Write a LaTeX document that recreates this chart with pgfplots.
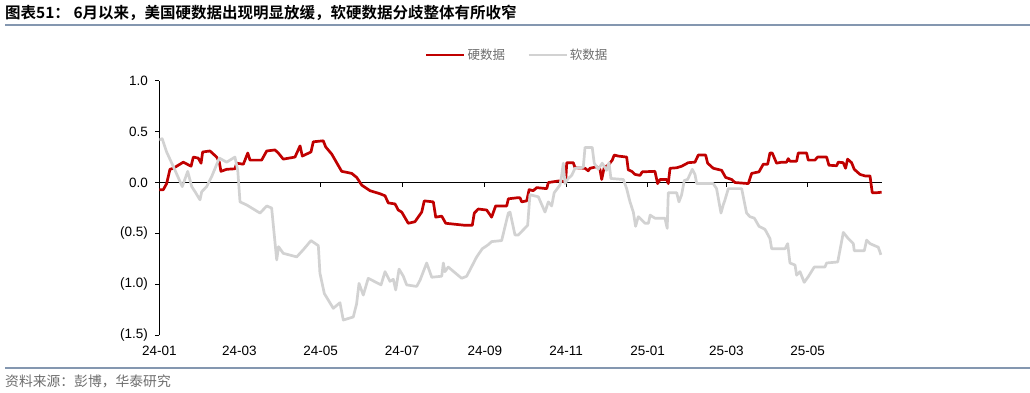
\documentclass[border=0pt]{standalone}
\usepackage{fontspec}
\setmainfont{Liberation Sans}
\newfontfamily\cjk[BoldFont={Noto Sans CJK SC Bold}]{Noto Sans CJK SC}
\usepackage{pgfplots}
\pgfplotsset{compat=1.18}
\definecolor{hardred}{RGB}{192,0,0}
\definecolor{softgray}{RGB}{210,210,210}
\definecolor{rulecol}{RGB}{132,151,176}
\definecolor{txtgray}{RGB}{110,110,110}

\pgfplotstableread{
d v
0 -0.07
3 -0.07
5.5 -0.01
8 0.13
10.5 0.14
18 0.20
23.8 0.16
25.5 0.25
29.2 0.24
31.3 0.19
32.5 0.30
38 0.31
43 0.25
45 0.20
46.2 0.11
50.5 0.13
56.7 0.135
58 0.19
63 0.18
66.3 0.29
68 0.22
76.7 0.22
80.5 0.31
86.7 0.32
89.2 0.29
92.9 0.23
101.7 0.25
105.5 0.36
107.2 0.26
113.7 0.30
115.4 0.40
122.9 0.41
124.7 0.35
129.2 0.28
136.7 0.11
144.2 0.09
148 0.05
151.7 -0.025
157.9 -0.08
165.4 -0.11
169.2 -0.13
171.6 -0.20
176.7 -0.21
179.1 -0.27
181.7 -0.29
186.6 -0.40
191.6 -0.385
196.7 -0.29
198.6 -0.18
205.4 -0.19
207.2 -0.34
211.7 -0.33
214.7 -0.40
229.1 -0.42
234.6 -0.42
236.1 -0.30
239.1 -0.26
245.4 -0.27
249.1 -0.34
252.1 -0.23
260.4 -0.23
261.6 -0.16
267.9 -0.15
270.4 -0.15
271.6 -0.19
275.4 -0.18
277.2 -0.07
280.3 -0.08
282.9 -0.05
290.4 -0.06
291.6 0.00
299.1 0.015
304.6 0.01
305.4 0.195
310.3 0.195
311.6 0.145
319.1 0.14
321.5 0.115
322.8 0.14
327.8 0.155
330.3 0.13
331.6 0.03
333.5 0.15
336.5 0.17
339.5 0.22
341 0.27
344 0.26
350.3 0.25
351.5 0.125
354.1 0.11
356.5 0.08
360.3 0.07
362 0.105
371.5 0.11
373.5 -0.01
375.3 0.03
380.3 0.03
381.5 -0.01
382.8 0.14
387.8 0.145
391.5 0.16
396.5 0.195
401.5 0.20
404 0.27
409.5 0.27
411 0.19
415.2 0.14
421.5 0.12
424.5 0.05
429 0.03
431.5 0.00
441.5 -0.01
444 0.09
449.5 0.105
452.7 0.18
456 0.18
457.7 0.29
459.4 0.29
462.7 0.19
466.5 0.20
470.2 0.20
471.4 0.235
472.7 0.21
477.7 0.21
478.9 0.29
485.2 0.29
486.4 0.22
491.4 0.22
493.4 0.25
500.2 0.25
501.9 0.17
507.7 0.165
508.9 0.20
512.6 0.195
514.4 0.14
515.9 0.23
518.9 0.195
520.9 0.13
525.2 0.08
528.9 0.065
532.7 0.065
534.4 -0.10
537.7 -0.10
541.4 -0.095
}\hard

\pgfplotstableread{
d v
0 0.42
2.2 0.43
5.5 0.30
11.8 0.12
17.2 -0.04
21.3 0.11
24.3 -0.04
26.8 -0.09
30.5 -0.17
31.8 -0.09
35.5 -0.04
39.3 0.06
45 0.24
50.5 0.20
56.7 0.25
58.8 0.12
60.5 -0.19
65.5 -0.22
75.5 -0.30
80.5 -0.23
84.2 -0.25
88 -0.76
89.4 -0.63
92.9 -0.695
103 -0.73
107.9 -0.66
113.7 -0.57
119.2 -0.62
120.4 -0.89
123.7 -1.09
130.4 -1.235
135.4 -1.18
137.9 -1.35
145.4 -1.32
147.9 -1.19
149.7 -0.99
152.9 -1.105
156.6 -0.94
166.2 -1.005
169.2 -0.875
172.9 -0.97
175.4 -0.95
177.2 -1.055
179.7 -0.85
182.9 -0.92
185.4 -1.005
192.9 -1.02
195.4 -0.96
200.4 -0.79
204.2 -0.93
211.7 -0.92
212.9 -0.79
214.1 -0.875
216.6 -0.83
226.6 -0.94
230.4 -0.92
237.9 -0.73
242.1 -0.65
246.6 -0.61
249.1 -0.58
256.6 -0.57
261.6 -0.30
262.9 -0.29
266.6 -0.515
269.1 -0.515
276.1 -0.42
277.8 -0.12
284.1 -0.14
289.1 -0.29
291.6 -0.19
294.1 -0.23
296 -0.10
300.3 -0.025
301.6 0.07
302.8 0.19
304.1 -0.01
306.5 0.04
309.1 0.07
311.6 0.14
317.8 0.15
319.1 0.345
324.5 0.345
326 0.19
329 0.13
332 0.19
335.3 0.12
337.1 0.195
338.5 0.04
347.8 0.03
350.3 -0.06
352.8 -0.19
355.3 -0.29
357 -0.43
359 -0.335
364.1 -0.40
366.6 -0.40
367.9 -0.32
371.5 -0.35
379 -0.35
380.7 -0.45
381.5 -0.10
387.8 -0.10
389.5 -0.19
391.5 -0.12
393.5 0.02
396 0.03
399.5 0.13
401.5 0.08
402.8 -0.01
415.2 -0.01
417.7 -0.06
421 -0.30
422.7 -0.22
424 -0.17
426.5 -0.06
436.5 -0.06
440.2 -0.30
442.7 -0.335
446 -0.35
449.5 -0.43
454 -0.46
457.7 -0.55
459 -0.65
469 -0.65
471 -0.60
472.7 -0.79
476.5 -0.81
477.7 -0.91
480.2 -0.875
483.4 -0.98
486.4 -0.925
490.9 -0.83
498.9 -0.83
500.2 -0.79
508.5 -0.78
512.7 -0.49
516.4 -0.55
520.2 -0.60
520.9 -0.67
528.4 -0.67
530.2 -0.565
532.7 -0.60
538.9 -0.635
540.9 -0.71
}\soft

\begin{document}
\begin{tikzpicture}
\useasboundingbox[fill=white] (0pt,0pt) rectangle (1030pt,393pt);
\node[anchor=west, inner sep=0pt] at (5pt,380pt) {\cjk\bfseries\fontsize{15.5}{17}\selectfont 图表51：\ 6月以来，美国硬数据出现明显放缓，软硬数据分歧整体有所收窄};
\draw[rulecol, line width=1.2pt] (5pt,368pt) -- (1030pt,368pt);
\draw[rulecol, line width=1.2pt] (5pt,25pt) -- (1030pt,25pt);
\node[anchor=west, inner sep=0pt, text=txtgray] at (5pt,12pt) {\cjk\fontsize{13.8}{15}\selectfont 资料来源：彭博，华泰研究};
\begin{axis}[
  at={(159.3pt,57.7pt)}, anchor=south west,
  scale only axis, width=723.1pt, height=254.6pt,
  xmin=0, xmax=542, ymin=-1.5, ymax=1.0,
  axis y line=left, axis x line=middle,
  axis line style={-, black, line width=0.8pt},
  xtick={0,60,121,182,244,305,366,425,486},
  xticklabels={24-01,24-03,24-05,24-07,24-09,24-11,25-01,25-03,25-05},
  ytick={-1.5,-1,-0.5,0,0.5,1},
  yticklabels={(1.5),(1.0),(0.5),0.0,0.5,1.0},
  tick align=outside, major tick length=4pt,
  tick style={black, line width=0.8pt},
  ticklabel style={font=\fontsize{13.5}{15}\selectfont},
  xticklabel style={yshift=-156pt},
  yticklabel style={xshift=-4pt},
  hide obscured x ticks=false, hide obscured y ticks=false,
  legend columns=2,
  legend style={at={(0.495,1.101)}, anchor=center, draw=none, fill=none,
    font=\cjk\fontsize{12.5}{14}\selectfont, text=txtgray,
    /tikz/every even column/.append style={column sep=20pt}},
  legend image code/.code={\draw[#1] (0pt,0pt) -- (38pt,0pt);},
]
\addplot[hardred, line width=2.7pt, line join=round] table[x=d, y=v] {\hard};
\addlegendentry{硬数据}
\addplot[softgray, line width=2.7pt, line join=round] table[x=d, y=v] {\soft};
\addlegendentry{软数据}
\end{axis}
\end{tikzpicture}
\end{document}
